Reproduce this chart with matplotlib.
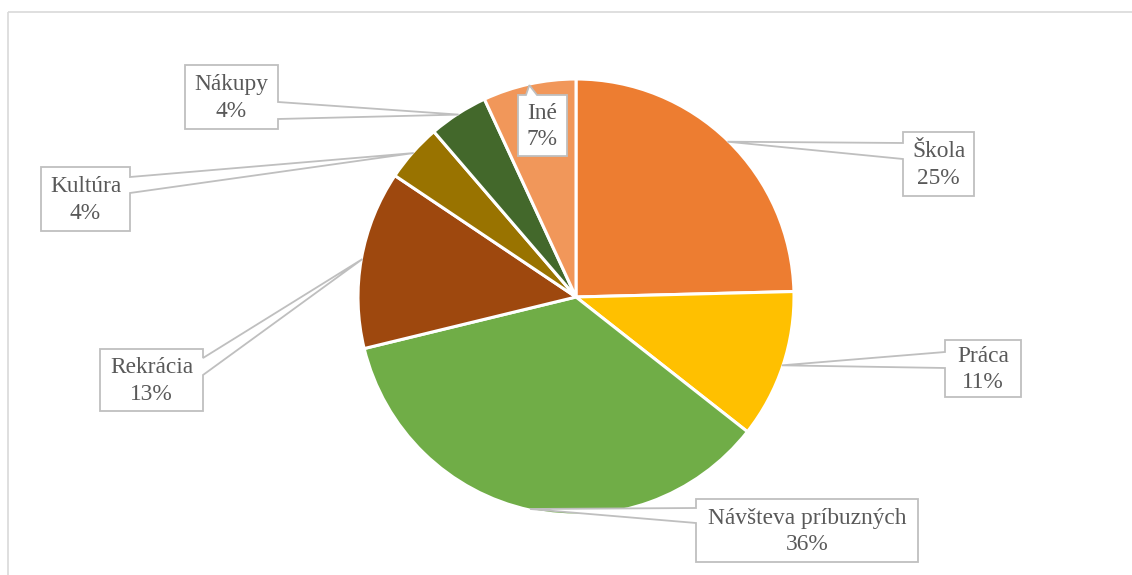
import numpy as np
import matplotlib
matplotlib.use("Agg")
import matplotlib.pyplot as plt
from matplotlib.patches import Polygon

# ---- data ----
categories = ["Škola", "Práca", "Návšteva príbuzných", "Rekrácia", "Kultúra", "Nákupy", "Iné"]
values = [24.6, 11.0, 35.6, 13.2, 4.3, 4.4, 6.9]
colors = ["#ED7D31", "#FFC000", "#70AD47", "#9E480E", "#997300", "#43682B", "#F1975A"]

W, H = 1132, 575
fig = plt.figure(figsize=(W / 100, H / 100), dpi=100)
ax = fig.add_axes([0, 0, 1, 1])

cx, cy, R = 576, H - 297, 218
wedges, _ = ax.pie(values, colors=colors, startangle=90, counterclock=False,
                   center=(cx, cy), radius=R,
                   wedgeprops=dict(edgecolor="white", linewidth=2.2))
ax.set_autoscale_on(False)
ax.set_xlim(0, W)
ax.set_ylim(0, H)
ax.set_aspect("equal")
ax.axis("off")

# chart frame
ax.plot([8, W], [H - 12, H - 12], color="#D9D9D9", lw=1.2, solid_capstyle="butt")
ax.plot([8, 8], [H - 12, 0], color="#D9D9D9", lw=1.2, solid_capstyle="butt")

# callout layout (top-pixel coords): box (x0, y0, x1, y1), side, base (a, b)
layout = {
    "Škola": ((903, 132, 974, 196), "left", (143, 159)),
    "Práca": ((945, 340, 1021, 397), "left", (352, 368)),
    "Návšteva príbuzných": ((696, 499, 918, 562), "left", (508, 523)),
    "Rekrácia": ((100, 349, 203, 411), "right", (358, 375)),
    "Kultúra": ((41, 167, 130, 231), "right", (177, 193)),
    "Nákupy": ((185, 65, 278, 129), "right", (102, 119)),
    "Iné": ((518, 95, 567, 156), "top", (526, 537)),
}

total = sum(values)
for w, cat, val in zip(wedges, categories, values):
    (x0, y0, x1, y1), side, (a, b) = layout[cat]
    mid = np.deg2rad((w.theta1 + w.theta2) / 2)
    tr = R * 0.995
    tx, ty_data = cx + tr * np.cos(mid), cy + tr * np.sin(mid)
    ty = H - ty_data
    if side == "left":
        pts = [(x0, y0), (x1, y0), (x1, y1), (x0, y1), (x0, b), (tx, ty), (x0, a)]
    elif side == "right":
        pts = [(x0, y0), (x1, y0), (x1, a), (tx, ty), (x1, b), (x1, y1), (x0, y1)]
    else:
        pts = [(x0, y0), (a, y0), (tx, ty), (b, y0), (x1, y0), (x1, y1), (x0, y1)]
    pts = [(px, H - py) for px, py in pts]
    ax.add_patch(Polygon(pts, closed=True, facecolor="white", edgecolor="#BFBFBF",
                         lw=1.3, zorder=5, joinstyle="miter"))
    pct = round(val / total * 100)
    ax.text((x0 + x1) / 2, H - (y0 + y1) / 2 - 1, f"{cat}\n{pct}%", ha="center", va="center",
            multialignment="center", fontsize=16.8, family="Liberation Serif",
            color="#595959", linespacing=1.32, zorder=6)

fig.savefig("out.png", dpi=100, facecolor="white")
